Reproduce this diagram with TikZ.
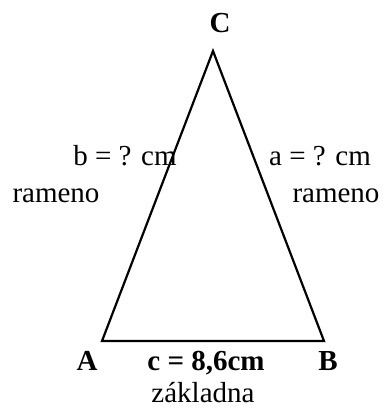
\documentclass[tikz,border=0pt]{standalone}
\usepackage{fontspec}
\setmainfont{Liberation Serif}
\begin{document}
\begin{tikzpicture}[x=1pt,y=-1pt,
  lbl/.style={anchor=base,inner sep=0pt,font=\fontsize{29}{32}\selectfont},
  blbl/.style={lbl,font=\fontsize{29}{32}\selectfont\bfseries},
  side/.style={line width=2.2pt,line join=miter}]
\useasboundingbox (0,0) rectangle (385,408);
\coordinate (A) at (102,341);
\coordinate (B) at (324,341);
\coordinate (C) at (213,51);
\draw[side] (A) -- (B) -- (C) -- cycle;
\node[blbl] (lC) at (220,32) {C};
\node[blbl] (lA) at (87,370) {A};
\node[blbl] (lB) at (328,370) {B};
\node[blbl] (lc) at (206,370) {c = 8,6cm};
\node[lbl] (zak) at (203,402) {základna};
\node[lbl] (lb) at (125,165) {b = ? cm};
\node[lbl] (rb) at (56,202) {rameno};
\node[lbl] (la) at (320,165) {a = ? cm};
\node[lbl] (ra) at (336,202) {rameno};
\end{tikzpicture}
\end{document}
